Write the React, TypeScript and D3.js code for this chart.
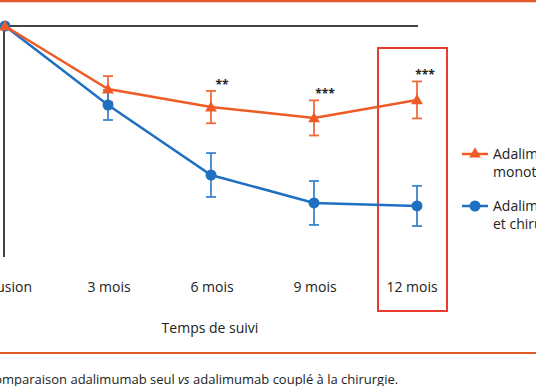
import * as d3 from "d3";

const categories = ["Inclusion", "3 mois", "6 mois", "9 mois", "12 mois"];

// score (arbitrary units, 100 = inclusion)
const monoValues = [100, 72.7, 64.9, 60.2, 68];
const monoErr = [0, 5.6, 7, 7.6, 8];
const chirValues = [100, 65.8, 35.5, 23.4, 22.1];
const chirErr = [0, 6.5, 9.5, 9.5, 8.7];
const stars = ["", "", "**", "***", "***"];

const seriesNames = [
    ["Adalimumab en", "monothérapie"],
    ["Adalimumab", "et chirurgie"],
];

const ORANGE = "#ef5b25";
const BLUE = "#1f70c1";
const font = "'Open Sans', 'DejaVu Sans', sans-serif";

export default function App() {
    const width = 536;
    const height = 386;

    const x = d3.scalePoint().domain(categories).range([5, 417]);
    const y = d3.scaleLinear().domain([0, 100]).range([257, 26]);

    const line = d3
        .line<number>()
        .x((_, i) => x(categories[i]) ?? 0)
        .y((d) => y(d));

    const tri = d3.symbol().type(d3.symbolTriangle).size(60)();

    const errBars = (vals: number[], errs: number[], color: string) =>
        vals.map((v, i) => {
            if (!errs[i]) return null;
            const cx = x(categories[i]) ?? 0;
            return (
                <g key={i} stroke={color} strokeWidth={1.8}>
                    <line x1={cx} x2={cx} y1={y(v + errs[i])} y2={y(v - errs[i])} />
                    <line x1={cx - 5} x2={cx + 5} y1={y(v + errs[i])} y2={y(v + errs[i])} />
                    <line x1={cx - 5} x2={cx + 5} y1={y(v - errs[i])} y2={y(v - errs[i])} />
                </g>
            );
        });

    return (
        <>
            <style>{"body{margin:0}"}</style>
            <svg width={width} height={height} style={{ display: "block" }} fontFamily={font}>
                <rect width={width} height={height} fill="#fff" />
                <line x1={0} x2={width} y1={1} y2={1} stroke="#e35b2b" strokeWidth={2.5} />

                {/* axes */}
                <line x1={4} x2={418} y1={26} y2={26} stroke="#444" strokeWidth={2} />
                <line x1={4} x2={4} y1={26} y2={257} stroke="#444" strokeWidth={2} />

                {/* highlight box */}
                <rect x={378} y={48} width={69} height={263} fill="none" stroke="#ea3b33" strokeWidth={2} />

                {errBars(monoValues, monoErr, "#f26a3a")}
                {errBars(chirValues, chirErr, "#3a86cf")}

                <path d={line(chirValues) ?? ""} fill="none" stroke={BLUE} strokeWidth={2.5} />
                <path d={line(monoValues) ?? ""} fill="none" stroke={ORANGE} strokeWidth={2.5} />

                {chirValues.map((v, i) => (
                    <circle key={i} cx={x(categories[i])} cy={y(v)} r={5.5} fill={BLUE} />
                ))}
                {monoValues.map((v, i) => (
                    <path key={i} d={tri ?? ""} transform={`translate(${x(categories[i])},${y(v) + 1})`} fill={ORANGE} />
                ))}

                {stars.map((s, i) =>
                    s ? (
                        <text
                            key={i}
                            x={(x(categories[i]) ?? 0) + (i === 4 ? 8 : 11)}
                            y={y(monoValues[i] + monoErr[i]) - 2}
                            textAnchor="middle"
                            fontSize={12}
                            fontWeight="bold"
                            fill="#222"
                        >
                            {s}
                        </text>
                    ) : null
                )}

                {/* x tick labels */}
                {categories.map((c, i) => (
                    <text
                        key={c}
                        x={i === 0 ? 32 : (x(c) ?? 0) + (i === 4 ? -5 : 1)}
                        y={292}
                        textAnchor={i === 0 ? "end" : "middle"}
                        fontSize={14}
                        fill="#222"
                    >
                        {c}
                    </text>
                ))}
                <text x={210} y={333} textAnchor="middle" fontSize={14} fill="#222">
                    Temps de suivi
                </text>

                {/* legend */}
                <g transform="translate(462,154)">
                    <line x1={0} x2={26} stroke={ORANGE} strokeWidth={2.5} />
                    <path d={tri ?? ""} transform="translate(13,0)" fill={ORANGE} />
                    <text x={31} y={5} fontSize={14} fill="#222">{seriesNames[0][0]}</text>
                    <text x={31} y={23} fontSize={14} fill="#222">{seriesNames[0][1]}</text>
                </g>
                <g transform="translate(462,206)">
                    <line x1={0} x2={26} stroke={BLUE} strokeWidth={2.5} />
                    <circle cx={13} cy={0} r={5.5} fill={BLUE} />
                    <text x={31} y={5} fontSize={14} fill="#222">{seriesNames[1][0]}</text>
                    <text x={31} y={23} fontSize={14} fill="#222">{seriesNames[1][1]}</text>
                </g>

                <line x1={0} x2={width} y1={353} y2={353} stroke="#e35b2b" strokeWidth={2} />
                <text x={-14} y={384} fontSize={13} fill="#222">
                    Comparaison adalimumab seul <tspan fontStyle="italic">vs</tspan> adalimumab couplé à la chirurgie.
                </text>
            </svg>
        </>
    );
}
